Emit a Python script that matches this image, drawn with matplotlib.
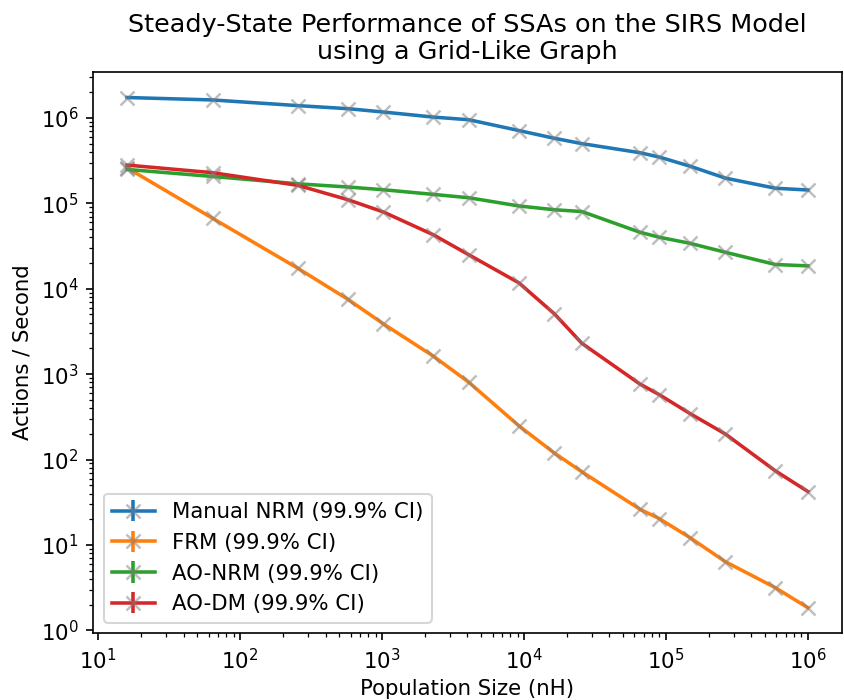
import matplotlib
matplotlib.use("Agg")
import matplotlib.pyplot as plt

# population sizes (grid graph, n x n)
pop = [16, 64, 256, 576, 1024, 2304, 4096, 9216, 16384, 25600,
       65536, 90000, 147456, 262144, 589824, 1000000]

manual_nrm = [1.73e6, 1.62e6, 1.39e6, 1.28e6, 1.17e6, 1.02e6, 9.5e5, 7.1e5,
              5.76e5, 4.99e5, 3.91e5, 3.47e5, 2.72e5, 1.97e5, 1.50e5, 1.43e5]
frm = [2.6e5, 6.68e4, 1.73e4, 7.5e3, 3.87e3, 1.62e3, 800, 248,
       119, 71.8, 26.2, 20.3, 12.2, 6.37, 3.16, 1.84]
ao_nrm = [2.49e5, 2.06e5, 1.69e5, 1.55e5, 1.44e5, 1.27e5, 1.16e5, 9.3e4,
          8.4e4, 8.0e4, 4.58e4, 4.0e4, 3.4e4, 2.67e4, 1.92e4, 1.85e4]
ao_dm = [2.8e5, 2.28e5, 1.62e5, 1.10e5, 7.9e4, 4.27e4, 2.49e4, 1.17e4,
         5.07e3, 2.29e3, 766, 573, 346, 199, 73.7, 42.2]

series = [
    ("Manual NRM (99.9% CI)", manual_nrm),
    ("FRM (99.9% CI)", frm),
    ("AO-NRM (99.9% CI)", ao_nrm),
    ("AO-DM (99.9% CI)", ao_dm),
]

plt.rcParams["font.size"] = 10.2

fig = plt.figure(figsize=(844 / 150, 700 / 150), dpi=150)
ax = fig.add_axes([93 / 844, (700 - 633.3) / 700, (842 - 93) / 844, (633.3 - 72) / 700])

for label, vals in series:
    ax.errorbar(pop, vals, yerr=0, marker="x", ms=7, mew=1.2, lw=1.7,
                mec=(0.5, 0.5, 0.5, 0.5), mfc="none", label=label)

ax.set_xscale("log")
ax.set_yscale("log")
ax.set_xlabel("Population Size (nH)", labelpad=3)
ax.set_ylabel("Actions / Second")
ax.set_title("Steady-State Performance of SSAs on the SIRS Model\nusing a Grid-Like Graph")
ax.legend(loc="lower left")

fig.savefig("out.png", dpi=150)
